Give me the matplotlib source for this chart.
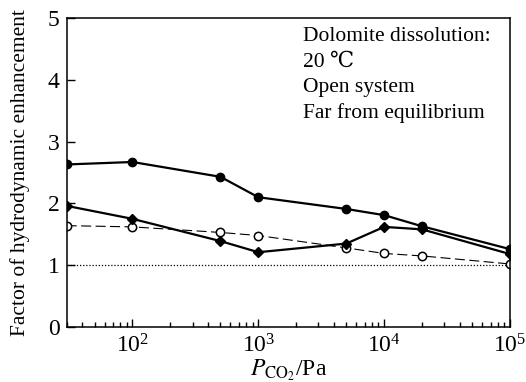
import matplotlib

matplotlib.use("Agg")
import matplotlib.pyplot as plt
from matplotlib.ticker import LogLocator, NullFormatter

plt.rcParams.update({
    "font.family": ["Liberation Serif", "DejaVu Serif"],
    "mathtext.fontset": "stix",
    "font.size": 16,
})

# P_CO2 (Pa) and enhancement factors for the three series
pco2 = [30, 100, 500, 1000, 5000, 10000, 20000, 100000]
filled_circle = [2.63, 2.67, 2.43, 2.10, 1.91, 1.81, 1.63, 1.26]
filled_diamond = [1.96, 1.75, 1.39, 1.21, 1.35, 1.62, 1.58, 1.18]
open_circle = [1.64, 1.62, 1.53, 1.48, 1.28, 1.19, 1.15, 1.02]

fig = plt.figure(figsize=(5.26, 3.82), dpi=100)
ax = fig.add_axes([66.7 / 526, 1 - 327 / 382, (510 - 66.7) / 526, (327 - 18) / 382])

ax.axhline(1.0, color="black", lw=0.9, ls=(0, (1, 1.5)))
ax.plot(pco2, open_circle, color="black", lw=0.8, ls=(0, (9, 4)),
        marker="o", ms=6, mfc="white", mec="black", mew=1.1)
ax.plot(pco2, filled_circle, color="black", lw=1.6, marker="o", ms=6)
ax.plot(pco2, filled_diamond, color="black", lw=1.6, marker="D", ms=5.5)

ax.set_xscale("log")
ax.set_xlim(30, 1e5)
ax.set_ylim(0, 5)
ax.set_yticks([0, 1, 2, 3, 4, 5])
ax.xaxis.set_major_locator(LogLocator(base=10, numticks=10))
ax.xaxis.set_minor_locator(LogLocator(base=10, subs=range(2, 10), numticks=20))
ax.xaxis.set_minor_formatter(NullFormatter())
ax.tick_params(which="major", direction="in", length=6, width=1, labelsize=17, pad=5)
ax.tick_params(which="minor", direction="in", length=3.5, width=1)
for s in ax.spines.values():
    s.set_linewidth(1.1)

ax.set_xlabel(r"$P_{\mathrm{CO_2}}$/Pa", fontsize=17, labelpad=0)
ax.set_ylabel("Factor of hydrodynamic enhancement", fontsize=15.5, labelpad=13)

notes = ["Dolomite dissolution:", "20 \u2103", "Open system", "Far from equilibrium"]
for i, line in enumerate(notes):
    ax.text(0.533, 0.94 - i * 0.083, line, transform=ax.transAxes,
            fontsize=15.5, va="center", ha="left")

fig.savefig("out.png", dpi=100)
